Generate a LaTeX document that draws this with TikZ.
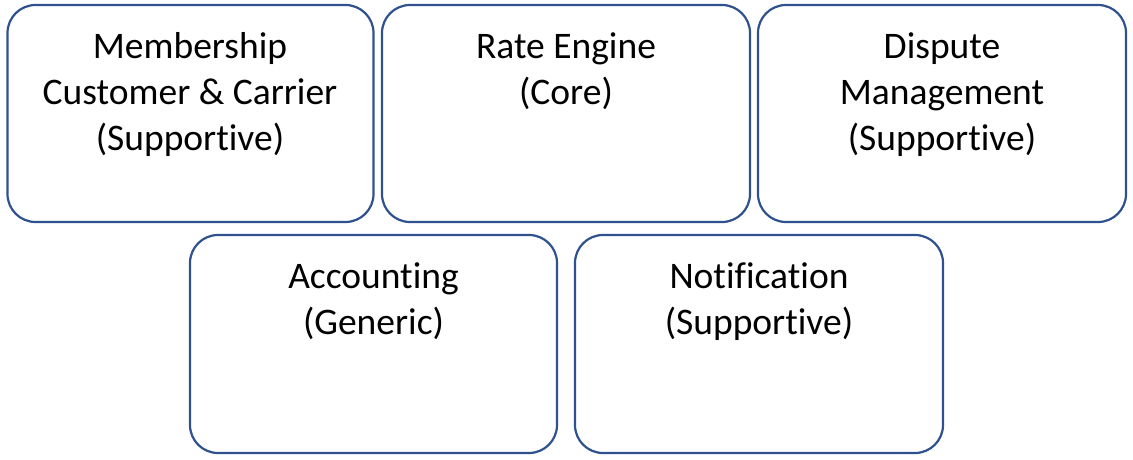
\documentclass[tikz,border=0pt]{standalone}
\usepackage{fontspec}
\setmainfont{Carlito}[Ligatures={NoCommon,NoContextual,NoRequired,NoRare}]
\definecolor{boxblue}{HTML}{2F528F}
\tikzset{
  box/.style={draw=boxblue, line width=2.2pt, rounded corners=28pt, fill=white},
  lbl/.style={align=center, inner sep=0pt, text=black, anchor=base,
    font={\fontsize{37.5pt}{45.8pt}\selectfont}}
}
\begin{document}
\begin{tikzpicture}[x=1pt,y=-1pt]
\useasboundingbox (0,0) rectangle (1133,460);
\node[box, minimum width=366pt, minimum height=217pt] (b1) at (190.5,113.5) {};
\node[box, minimum width=368pt, minimum height=217pt] (b2) at (566,113.5) {};
\node[box, minimum width=368pt, minimum height=217pt] (b3) at (942,113.5) {};
\node[box, minimum width=367pt, minimum height=218pt] (b4) at (373.5,344) {};
\node[box, minimum width=368pt, minimum height=218pt] (b5) at (759,344) {};
\node[lbl] (t1) at (190,150) {Membership\\Customer \& Carrier\\(Supportive)};
\node[lbl] (t2) at (566,104) {Rate Engine\\(Core)};
\node[lbl] (t3) at (942,150) {Dispute\\Management\\(Supportive)};
\node[lbl] (t4) at (373.5,334) {Accounting\\(Generic)};
\node[lbl] (t5) at (759,334) {Notification\\(Supportive)};
\end{tikzpicture}
\end{document}
